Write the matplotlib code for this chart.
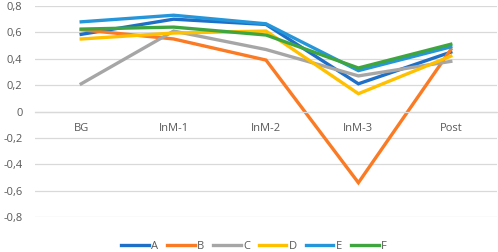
import matplotlib.pyplot as plt
from matplotlib.ticker import FuncFormatter

categories = ["BG", "InM-1", "InM-2", "InM-3", "Post"]
A = [0.585, 0.70, 0.66, 0.21, 0.45]
B = [0.62, 0.55, 0.39, -0.54, 0.47]
C = [0.21, 0.61, 0.47, 0.27, 0.38]
D = [0.55, 0.595, 0.61, 0.135, 0.42]
E = [0.68, 0.73, 0.665, 0.31, 0.49]
F = [0.625, 0.64, 0.58, 0.33, 0.51]

series = {"A": A, "B": B, "C": C, "D": D, "E": E, "F": F}
colors = ["#1E6FC8", "#FB7A24", "#A6A6A6", "#FFC000", "#2596DA", "#3FA63F"]

plt.rcParams['font.family'] = ['Open Sans', 'DejaVu Sans']

fig = plt.figure(figsize=(4.98, 2.52), dpi=100)
ax = fig.add_axes([35 / 498, 35 / 252, 462 / 498, 211 / 252])

x = range(len(categories))
for (name, vals), c in zip(series.items(), colors):
    ax.plot(x, vals, color=c, lw=2.4, label=name, solid_joinstyle='miter')

ax.set_xlim(-0.5, len(categories) - 0.5)
ax.set_ylim(-0.8, 0.8)
ax.set_yticks([-0.8, -0.6, -0.4, -0.2, 0, 0.2, 0.4, 0.6, 0.8])
ax.yaxis.set_major_formatter(FuncFormatter(
    lambda v, p: "0" if abs(v) < 1e-9 else f"{v:.1f}".replace(".", ",")))
ax.grid(axis='y', color='#D9D9D9', lw=0.9)
ax.set_axisbelow(True)

for s in ['top', 'right', 'left']:
    ax.spines[s].set_visible(False)
ax.spines['bottom'].set_position(('data', 0))
ax.spines['bottom'].set_color('#D9D9D9')
ax.spines['bottom'].set_linewidth(0.9)

ax.set_xticks(list(x))
ax.set_xticklabels(categories)
ax.tick_params(axis='x', length=0, pad=8, labelsize=8, labelcolor='#595959')
ax.tick_params(axis='y', length=0, pad=9, labelsize=8, labelcolor='#595959')

ax.legend(loc='center', bbox_to_anchor=(0.474, -0.14), ncol=6, frameon=False,
          fontsize=8, handlelength=2.5, handletextpad=0.25, columnspacing=0.75,
          labelcolor='#595959')

fig.savefig("out.png", dpi=100)
